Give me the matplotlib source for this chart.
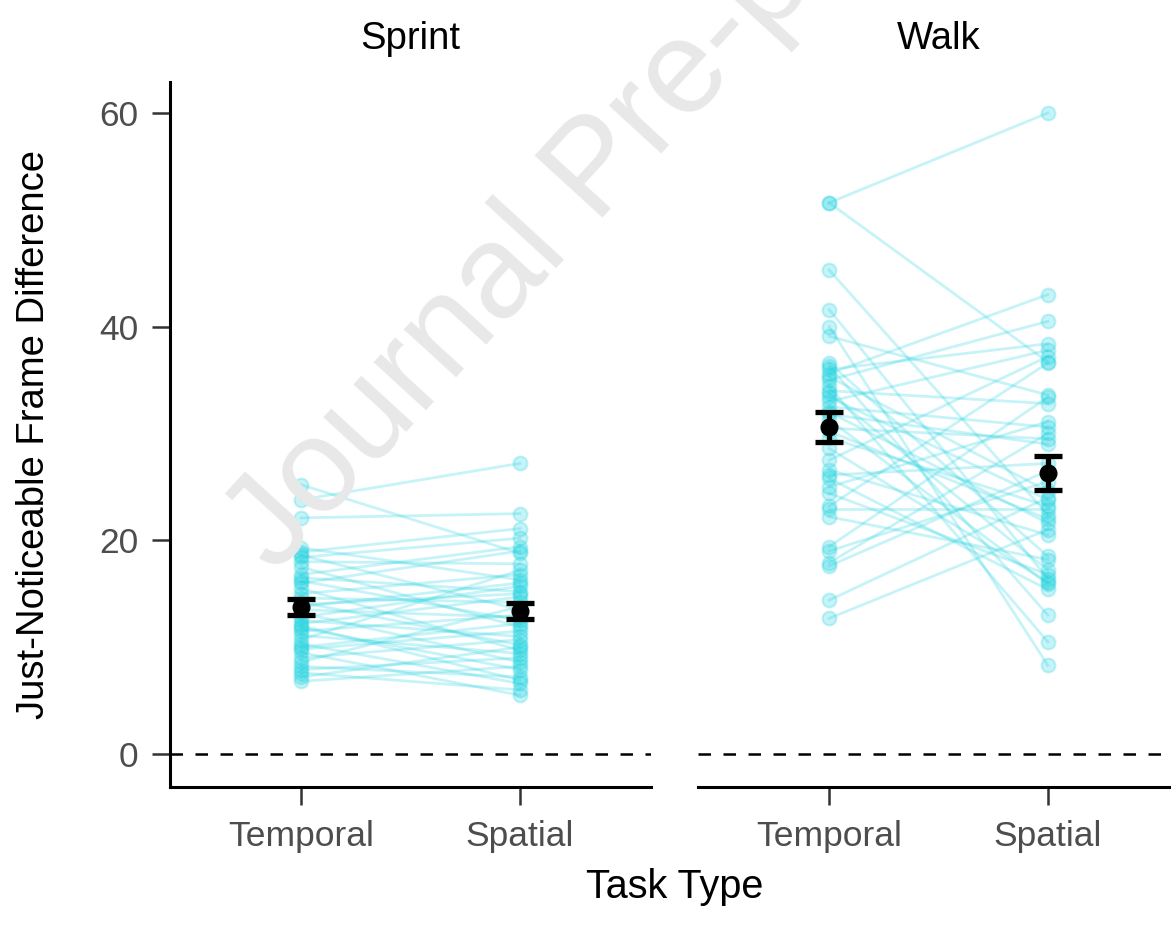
import matplotlib as mpl
mpl.use("Agg")
import matplotlib.pyplot as plt
import numpy as np

plt.rcParams['font.family'] = ['Liberation Sans', 'DejaVu Sans']

conditions = ["Temporal", "Spatial"]
panels = ["Sprint", "Walk"]

# paired values per participant
sprint_temporal = [25.2, 23.8, 22.1, 19.3, 18.9, 18.6, 18.4, 18.0, 17.5, 16.8,
                   16.5, 16.2, 16.0, 15.5, 15.0, 14.6, 14.2, 13.8, 13.5, 13.2,
                   12.8, 12.5, 12.2, 11.8, 11.5, 11.1, 10.7, 10.3, 10.0, 9.8,
                   9.5, 9.0, 8.6, 8.2, 7.9, 7.6, 7.2, 6.8, 12.0, 14.0]
sprint_spatial = [18.8, 27.2, 22.5, 16.3, 21.1, 13.5, 20.2, 17.8, 11.9, 19.4,
                  15.2, 12.5, 19.0, 9.7, 16.8, 14.2, 10.2, 16.0, 12.8, 8.6,
                  15.7, 11.0, 14.7, 7.9, 13.0, 9.4, 17.2, 6.6, 12.2, 11.5,
                  5.5, 10.7, 13.8, 7.2, 9.0, 6.0, 10.0, 8.2, 6.9, 15.0]
walk_temporal = [51.6, 45.3, 35.6, 41.6, 51.6, 40.0, 39.1, 35.0, 36.6, 36.3,
                 36.0, 35.3, 34.4, 34.0, 33.8, 33.0, 32.0, 31.3, 30.5, 29.6,
                 28.6, 27.5, 26.6, 26.1, 25.8, 25.0, 24.4, 23.2, 22.9, 22.2,
                 19.4, 19.0, 17.9, 17.6, 14.4, 12.7, 33.4, 32.5, 30.2, 31.8]
walk_spatial = [60.0, 22.4, 43.0, 16.4, 36.7, 8.3, 33.6, 40.5, 18.5, 13.0,
                38.4, 24.6, 10.5, 32.8, 17.2, 37.8, 21.6, 15.9, 29.5, 23.2,
                16.1, 37.2, 20.5, 27.2, 15.4, 31.1, 16.8, 36.6, 22.9, 18.2,
                33.4, 25.5, 30.0, 26.5, 24.0, 21.0, 23.8, 30.6, 22.0, 29.0]

data = {"Sprint": (sprint_temporal, sprint_spatial),
        "Walk": (walk_temporal, walk_spatial)}

W, H = 1171, 935
fig = plt.figure(figsize=(W / 100, H / 100), dpi=100)

cyan = "#1FD3E0"
pw = 481
lefts = [170, 698]
top_px, bot_px = 82, 787

# watermark behind everything
fig.text(275 / W, 1 - 575 / H, "Journal Pre-proof", fontsize=96, color="#E8E8E8",
         rotation=47.5, rotation_mode="anchor", ha="left", va="baseline", zorder=0)

axes = []
for i, name in enumerate(panels):
    ax = fig.add_axes([lefts[i] / W, 1 - bot_px / H, pw / W, (bot_px - top_px) / H])
    ax.patch.set_alpha(0)
    t, s = data[name]
    t = np.array(t)
    s = np.array(s)
    for a, b in zip(t, s):
        ax.plot([1, 2], [a, b], color=cyan, alpha=0.25, lw=2.0, zorder=2)
    for x, vals in zip([1, 2], [t, s]):
        ax.plot(np.full(len(vals), x), vals, 'o', ms=10, mfc=cyan, mec=cyan,
                alpha=0.25, mew=1.5, zorder=3)
        m = vals.mean()
        se = vals.std(ddof=1) / np.sqrt(len(vals))
        ax.errorbar(x, m, yerr=se, fmt='o', color='black', ms=12, elinewidth=3.8,
                    capsize=10, capthick=3.8, zorder=5)
    ax.axhline(0, color='black', lw=1.8, ls=(0, (5, 5)), zorder=1)
    ax.set_xlim(0.4, 2.6)
    ax.set_ylim(-3.09, 62.9)
    ax.set_xticks([1, 2])
    ax.set_xticklabels(conditions)
    ax.set_yticks([0, 20, 40, 60])
    ax.tick_params(axis='both', length=13, width=1.8, color="#333333",
                   labelsize=25.5, labelcolor="#4D4D4D")
    ax.tick_params(axis='x', pad=11)
    ax.tick_params(axis='y', pad=10)
    for sp in ['top', 'right']:
        ax.spines[sp].set_visible(False)
    ax.spines['bottom'].set_linewidth(2.2)
    ax.spines['left'].set_linewidth(2.2)
    if i == 1:
        ax.spines['left'].set_visible(False)
        ax.tick_params(axis='y', left=False, labelleft=False)
    ax.set_title(name, fontsize=27.5, pad=24)
    axes.append(ax)

axes[0].set_ylabel("Just-Noticeable Frame Difference", fontsize=27.5, labelpad=34)
fig.text(675 / W, 1 - 887 / H, "Task Type", fontsize=28.5, ha='center', va='center')

fig.savefig("out.png", dpi=100)
